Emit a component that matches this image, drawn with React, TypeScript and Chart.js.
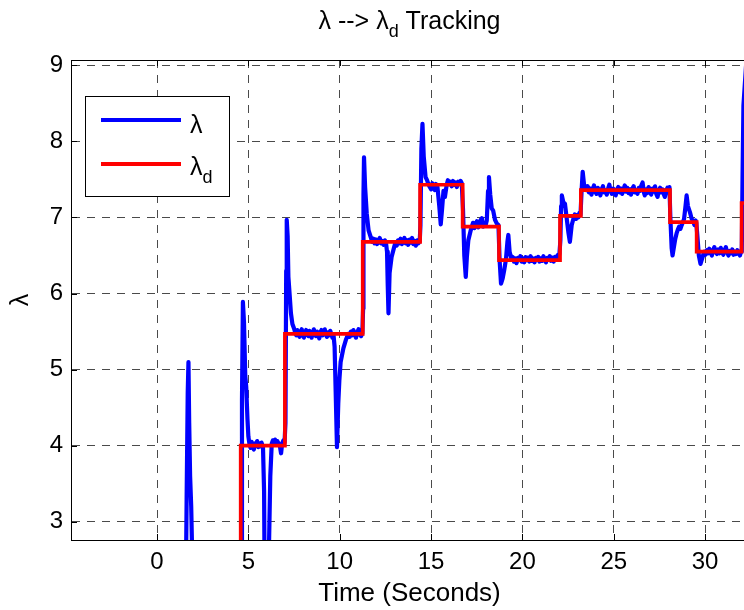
import React, { useEffect, useRef } from 'react';
import { Chart, registerables } from 'chart.js';

Chart.register(...registerables);

// ---- data: λ (time [s], value) per segment ----
const lambdaSegA: number[][] = [
  [1.55, 1.5], [1.62, 3.3], [1.68, 4.7], [1.72, 5.1], [1.76, 4.3], [1.81, 3.6], [1.87, 3.2], [1.93, 2.5], [1.99, 1.5],
];
const lambdaSegB: number[][] = [
  [4.6, 1.5], [4.65, 4.6], [4.7, 5.89], [4.76, 5.62], [4.83, 4.92], [4.88, 4.78], [4.95, 4.35], [5.0, 4.12],
  [5.06, 4.02], [5.12, 3.97], [5.18, 4.05], [5.24, 3.99], [5.3, 3.95], [5.36, 4.03], [5.42, 4.0], [5.48, 4.06],
  [5.54, 3.98], [5.6, 4.03], [5.66, 3.99], [5.72, 4.04], [5.8, 3.98], [5.86, 3.4], [5.91, 1.5],
  [6.05, 1.5], [6.13, 2.7], [6.2, 3.6], [6.28, 4.03], [6.34, 4.07], [6.4, 4.02], [6.46, 4.08], [6.52, 4.01],
  [6.58, 4.06], [6.65, 4.03], [6.72, 4.0], [6.79, 3.9], [6.85, 4.03], [6.92, 4.07], [6.98, 4.04],
];
const lambdaSegC: number[][] = [
  [7.03, 4.3], [7.07, 6.3], [7.1, 6.97], [7.15, 6.75], [7.19, 6.22], [7.26, 5.98], [7.33, 5.74], [7.41, 5.6],
  [7.5, 5.54], [7.56, 5.49], [7.62, 5.45], [7.68, 5.52], [7.74, 5.47], [7.8, 5.43], [7.86, 5.5], [7.92, 5.53],
  [7.98, 5.46], [8.04, 5.42], [8.1, 5.49], [8.16, 5.52], [8.22, 5.46], [8.28, 5.44], [8.34, 5.51], [8.4, 5.47],
  [8.46, 5.42], [8.52, 5.48], [8.58, 5.53], [8.64, 5.47], [8.7, 5.44], [8.76, 5.5], [8.82, 5.46], [8.88, 5.41],
  [8.94, 5.49], [9.0, 5.52], [9.06, 5.45], [9.12, 5.48], [9.18, 5.53], [9.24, 5.46], [9.3, 5.43], [9.36, 5.49],
  [9.42, 5.45], [9.48, 5.51], [9.54, 5.47], [9.6, 5.42], [9.66, 5.46], [9.72, 5.3], [9.78, 4.7], [9.85, 3.98],
  [9.92, 4.55], [9.98, 4.86], [10.05, 5.1], [10.2, 5.28], [10.35, 5.4], [10.47, 5.47], [10.54, 5.43], [10.61, 5.5],
  [10.68, 5.45], [10.75, 5.52], [10.82, 5.46], [10.89, 5.42], [10.96, 5.49], [11.03, 5.53], [11.1, 5.46],
  [11.17, 5.44], [11.24, 5.48],
];
const lambdaSegD: number[][] = [
  [11.28, 5.8], [11.3, 7.3], [11.33, 7.79], [11.39, 7.4], [11.48, 7.05], [11.58, 6.83], [11.7, 6.74], [11.77, 6.68],
  [11.84, 6.72], [11.91, 6.66], [11.98, 6.71], [12.05, 6.65], [12.12, 6.7], [12.19, 6.73], [12.26, 6.66],
  [12.33, 6.69], [12.4, 6.64], [12.47, 6.7], [12.54, 6.65], [12.59, 6.55], [12.63, 6.1], [12.67, 5.74],
  [12.73, 6.27], [12.84, 6.48], [12.98, 6.61], [13.05, 6.67], [13.12, 6.63], [13.19, 6.7], [13.26, 6.66],
  [13.33, 6.72], [13.4, 6.65], [13.47, 6.69], [13.54, 6.73], [13.61, 6.66], [13.68, 6.7], [13.75, 6.64],
  [13.82, 6.71], [13.89, 6.67], [13.96, 6.73], [14.03, 6.65], [14.1, 6.69], [14.17, 6.63], [14.24, 6.7],
  [14.31, 6.66], [14.38, 6.69],
];
const lambdaSegE: number[][] = [
  [14.42, 6.9], [14.47, 7.9], [14.53, 8.23], [14.6, 7.8], [14.7, 7.53], [14.78, 7.49], [14.85, 7.44], [14.93, 7.4],
  [15.0, 7.37], [15.07, 7.45], [15.14, 7.4], [15.2, 7.36], [15.27, 7.44], [15.35, 7.4], [15.45, 7.15], [15.53, 6.91],
  [15.6, 7.1], [15.68, 7.35], [15.76, 7.27], [15.85, 7.42], [15.92, 7.49], [15.99, 7.44], [16.06, 7.47],
  [16.13, 7.41], [16.2, 7.48], [16.27, 7.43], [16.34, 7.46], [16.41, 7.4], [16.48, 7.47], [16.55, 7.44],
  [16.62, 7.48], [16.68, 7.45],
];
const lambdaSegF: number[][] = [
  [16.75, 7.1], [16.82, 6.5], [16.9, 6.22], [16.96, 6.48], [17.04, 6.7], [17.1, 6.76], [17.16, 6.82], [17.23, 6.88],
  [17.3, 6.93], [17.37, 6.86], [17.44, 6.92], [17.51, 6.95], [17.58, 6.87], [17.65, 6.93], [17.72, 6.97],
  [17.78, 6.99], [17.85, 6.88], [17.92, 6.93], [17.99, 6.9], [18.05, 6.96], [18.12, 7.35], [18.17, 7.53],
  [18.24, 7.3], [18.32, 7.12], [18.4, 7.09], [18.5, 6.97], [18.6, 6.92], [18.69, 6.9],
];
const lambdaSegG: number[][] = [
  [18.75, 6.45], [18.83, 6.13], [18.92, 6.2], [19.0, 6.3], [19.1, 6.45], [19.18, 6.68], [19.23, 6.77], [19.3, 6.55],
  [19.4, 6.45], [19.47, 6.48], [19.54, 6.42], [19.61, 6.46], [19.68, 6.4], [19.75, 6.47], [19.82, 6.44],
  [19.89, 6.49], [19.96, 6.42], [20.03, 6.46], [20.1, 6.41], [20.17, 6.48], [20.24, 6.44], [20.31, 6.47],
  [20.38, 6.42], [20.45, 6.49], [20.52, 6.43], [20.59, 6.46], [20.66, 6.41], [20.73, 6.47], [20.8, 6.44],
  [20.87, 6.48], [20.94, 6.42], [21.01, 6.46], [21.08, 6.43], [21.15, 6.49], [21.22, 6.44], [21.29, 6.41],
  [21.36, 6.47], [21.43, 6.45], [21.5, 6.49], [21.57, 6.43], [21.64, 6.47], [21.71, 6.42], [21.78, 6.48],
  [21.85, 6.45], [21.92, 6.5], [21.98, 6.47], [22.03, 6.53],
];
const lambdaSegH: number[][] = [
  [22.08, 6.7], [22.12, 7.15], [22.16, 7.29], [22.24, 7.2], [22.33, 7.18], [22.42, 7.0], [22.52, 6.8], [22.6, 6.68],
  [22.7, 6.9], [22.8, 6.99], [22.87, 7.04], [22.93, 6.98], [23.0, 7.03], [23.06, 7.0], [23.12, 7.06], [23.18, 7.03],
];
const lambdaSegI: number[][] = [
  [23.24, 7.35], [23.3, 7.6], [23.38, 7.42], [23.44, 7.39], [23.5, 7.36], [23.57, 7.41], [23.64, 7.33],
  [23.71, 7.38], [23.78, 7.3], [23.85, 7.37], [23.92, 7.42], [23.99, 7.34], [24.06, 7.31], [24.13, 7.39],
  [24.2, 7.35], [24.27, 7.29], [24.34, 7.37], [24.41, 7.41], [24.48, 7.33], [24.55, 7.36], [24.62, 7.3],
  [24.69, 7.38], [24.76, 7.43], [24.83, 7.35], [24.9, 7.31], [24.97, 7.38], [25.04, 7.34], [25.11, 7.29],
  [25.18, 7.37], [25.25, 7.4], [25.32, 7.33], [25.39, 7.38], [25.46, 7.31], [25.53, 7.36], [25.6, 7.42],
  [25.67, 7.34], [25.74, 7.39], [25.81, 7.32], [25.88, 7.37], [25.95, 7.3], [26.02, 7.38], [26.09, 7.41],
  [26.16, 7.33], [26.23, 7.36], [26.3, 7.31], [26.37, 7.39], [26.44, 7.35], [26.51, 7.42], [26.58, 7.46],
  [26.65, 7.33], [26.7, 7.29], [26.77, 7.37], [26.84, 7.32], [26.91, 7.4], [26.98, 7.35], [27.05, 7.3],
  [27.12, 7.38], [27.19, 7.34], [27.26, 7.41], [27.33, 7.31], [27.4, 7.27], [27.47, 7.36], [27.54, 7.39],
  [27.61, 7.33], [27.68, 7.37], [27.75, 7.3], [27.8, 7.27], [27.87, 7.35], [27.94, 7.39], [28.01, 7.36],
  [28.05, 7.4],
];
const lambdaSegJ: number[][] = [
  [28.1, 7.0], [28.17, 6.6], [28.22, 6.5], [28.3, 6.62], [28.37, 6.72], [28.44, 6.79], [28.51, 6.84], [28.58, 6.88],
  [28.65, 6.85], [28.72, 6.9], [28.79, 6.94], [28.85, 6.98], [28.93, 7.15], [28.99, 7.29], [29.06, 7.15],
  [29.17, 7.07], [29.27, 6.98], [29.35, 6.95], [29.42, 6.9], [29.48, 6.96], [29.52, 6.93],
];
const lambdaSegK: number[][] = [
  [29.58, 6.75], [29.66, 6.5], [29.75, 6.39], [29.85, 6.47], [29.95, 6.55], [30.02, 6.51], [30.09, 6.57],
  [30.16, 6.53], [30.23, 6.59], [30.3, 6.54], [30.37, 6.5], [30.44, 6.57], [30.51, 6.61], [30.58, 6.54],
  [30.65, 6.52], [30.72, 6.58], [30.79, 6.53], [30.86, 6.6], [30.93, 6.55], [31.0, 6.51], [31.07, 6.57],
  [31.14, 6.61], [31.21, 6.54], [31.28, 6.5], [31.35, 6.56], [31.42, 6.53], [31.49, 6.58], [31.56, 6.51],
  [31.63, 6.55], [31.7, 6.52], [31.77, 6.57], [31.84, 6.53], [31.91, 6.5], [31.97, 6.55], [32.01, 6.57],
  [32.05, 7.5], [32.1, 8.47], [32.3, 9.2],
];

// λd reference (step changes: time [s], new value)
const lambdaDT = [4.58, 4.58, 7.0, 11.26, 14.4, 16.73, 18.72, 22.06, 23.2, 28.08, 29.54, 32.0, 32.6];
const lambdaDV = [1.5, 4.0, 5.47, 6.68, 7.43, 6.88, 6.44, 7.02, 7.36, 6.94, 6.55, 7.19, 7.19];

const xTicks = [0, 5, 10, 15, 20, 25, 30];
const yTicks = [3, 4, 5, 6, 7, 8, 9];
const X_MIN = -4.71;
const X_MAX = 32.35;
const Y_MIN = 2.76;
const Y_MAX = 9.07;

const FONT = '"Liberation Sans", Arial, Helvetica, sans-serif';
const BLUE = '#0000ff';
const RED = '#ff0000';
const GRID = '#4a4a4a';
const GRID_DASH = [8, 7];

type Part = { t: string; sub?: boolean };

function drawParts(ctx: CanvasRenderingContext2D, parts: Part[], x: number, y: number, size: number, subSize: number, center: boolean) {
  const widths = parts.map((p) => {
    ctx.font = `${p.sub ? subSize : size}px ${FONT}`;
    return ctx.measureText(p.t).width;
  });
  const total = widths.reduce((a, b) => a + b, 0);
  let cx = center ? x - total / 2 : x;
  ctx.textAlign = 'left';
  ctx.textBaseline = 'alphabetic';
  parts.forEach((p, i) => {
    ctx.font = `${p.sub ? subSize : size}px ${FONT}`;
    ctx.fillText(p.t, cx, p.sub ? y + size * 0.32 : y);
    cx += widths[i];
  });
}

const matlabPlugin = {
  id: 'matlabDecor',
  afterDraw(chart: any) {
    const { ctx, chartArea: a, scales } = chart;
    ctx.save();
    ctx.strokeStyle = '#000';
    ctx.lineWidth = 1;
    ctx.setLineDash([]);
    // top box edge
    ctx.beginPath();
    ctx.moveTo(a.left, Math.round(a.top) + 0.5);
    ctx.lineTo(a.right, Math.round(a.top) + 0.5);
    ctx.stroke();
    // inner ticks
    const tl = 6;
    ctx.beginPath();
    xTicks.forEach((v) => {
      const px = Math.round(scales.x.getPixelForValue(v)) + 0.5;
      ctx.moveTo(px, a.bottom);
      ctx.lineTo(px, a.bottom - tl);
      ctx.moveTo(px, a.top);
      ctx.lineTo(px, a.top + tl);
    });
    yTicks.forEach((v) => {
      const py = Math.round(scales.y.getPixelForValue(v)) + 0.5;
      ctx.moveTo(a.left, py);
      ctx.lineTo(a.left + tl, py);
    });
    ctx.stroke();

    // title
    ctx.fillStyle = '#000';
    drawParts(ctx, [{ t: 'λ --> λ' }, { t: 'd', sub: true }, { t: ' Tracking' }], (a.left + a.right) / 2, 29, 25, 18, true);

    // legend box
    const bx = 85.5, by = 96.5, bw = 144, bh = 100;
    ctx.fillStyle = '#fff';
    ctx.fillRect(bx, by, bw, bh);
    ctx.strokeStyle = '#000';
    ctx.lineWidth = 1;
    ctx.strokeRect(bx, by, bw, bh);
    ctx.lineWidth = 4;
    ctx.strokeStyle = BLUE;
    ctx.beginPath();
    ctx.moveTo(101, 120);
    ctx.lineTo(181, 120);
    ctx.stroke();
    ctx.strokeStyle = RED;
    ctx.beginPath();
    ctx.moveTo(101, 164);
    ctx.lineTo(181, 164);
    ctx.stroke();
    ctx.fillStyle = '#000';
    drawParts(ctx, [{ t: 'λ' }], 190, 133, 25, 18, false);
    drawParts(ctx, [{ t: 'λ' }, { t: 'd', sub: true }], 190, 175, 25, 18, false);
    ctx.restore();
  },
};

export default function App() {
  const canvasRef = useRef<HTMLCanvasElement | null>(null);

  useEffect(() => {
    const canvas = canvasRef.current;
    if (!canvas) return;
    const lambdaPts = [
      ...lambdaSegA, ...lambdaSegB, ...lambdaSegC, ...lambdaSegD, ...lambdaSegE, ...lambdaSegF,
      ...lambdaSegG, ...lambdaSegH, ...lambdaSegI, ...lambdaSegJ, ...lambdaSegK,
    ];
    const chart = new Chart(canvas, {
      type: 'line',
      data: {
        datasets: [
          {
            label: 'λd',
            data: lambdaDT.map((t, i) => ({ x: t, y: lambdaDV[i] })),
            borderColor: RED,
            backgroundColor: RED,
            borderWidth: 3.7,
            pointRadius: 0,
            stepped: true,
            clip: 0,
          } as any,
          {
            label: 'λ',
            data: lambdaPts.map((p) => ({ x: p[0], y: p[1] })),
            borderColor: BLUE,
            backgroundColor: BLUE,
            borderWidth: 4.2,
            pointRadius: 0,
            tension: 0,
            borderJoinStyle: 'round',
            borderCapStyle: 'round',
            clip: 0,
          } as any,
        ],
      },
      options: {
        animation: false,
        responsive: false,
        events: [],
        layout: { padding: { top: 60, left: 0, right: 0, bottom: 0 } },
        plugins: {
          legend: { display: false },
          title: { display: false },
          tooltip: { enabled: false },
        },
        scales: {
          x: {
            type: 'linear',
            min: X_MIN,
            max: X_MAX,
            afterBuildTicks: (s: any) => {
              s.ticks = xTicks.map((v) => ({ value: v }));
            },
            afterFit: (s: any) => {
              s.height = 70;
            },
            ticks: {
              color: '#000',
              font: { size: 24, family: FONT },
              padding: 8,
              maxRotation: 0,
              autoSkip: false,
            },
            grid: {
              color: GRID,
              lineWidth: 1,
              drawTicks: false,
            },
            border: { display: true, color: '#000', width: 1, dash: GRID_DASH },
            title: {
              display: true,
              text: 'Time (Seconds)',
              color: '#000',
              font: { size: 26, family: FONT },
              padding: { top: 0, bottom: 1 },
            },
          },
          y: {
            type: 'linear',
            min: Y_MIN,
            max: Y_MAX,
            afterBuildTicks: (s: any) => {
              s.ticks = yTicks.map((v) => ({ value: v }));
            },
            afterFit: (s: any) => {
              s.width = 71;
            },
            ticks: {
              color: '#000',
              font: { size: 24, family: FONT },
              padding: 8,
              autoSkip: false,
            },
            grid: {
              color: GRID,
              lineWidth: 1,
              drawTicks: false,
            },
            border: { display: true, color: '#000', width: 1, dash: GRID_DASH },
            title: {
              display: true,
              text: 'λ',
              color: '#000',
              font: { size: 25, family: FONT },
              padding: { top: 6, bottom: 0 },
            },
          },
        },
      },
      plugins: [matlabPlugin],
    });
    return () => chart.destroy();
  }, []);

  return (
    <div style={{ position: 'fixed', left: 0, top: 0, width: 744, height: 610, overflow: 'hidden', background: '#fff' }}>
      <canvas ref={canvasRef} width={748} height={610} style={{ width: 748, height: 610, display: 'block' }} />
    </div>
  );
}
